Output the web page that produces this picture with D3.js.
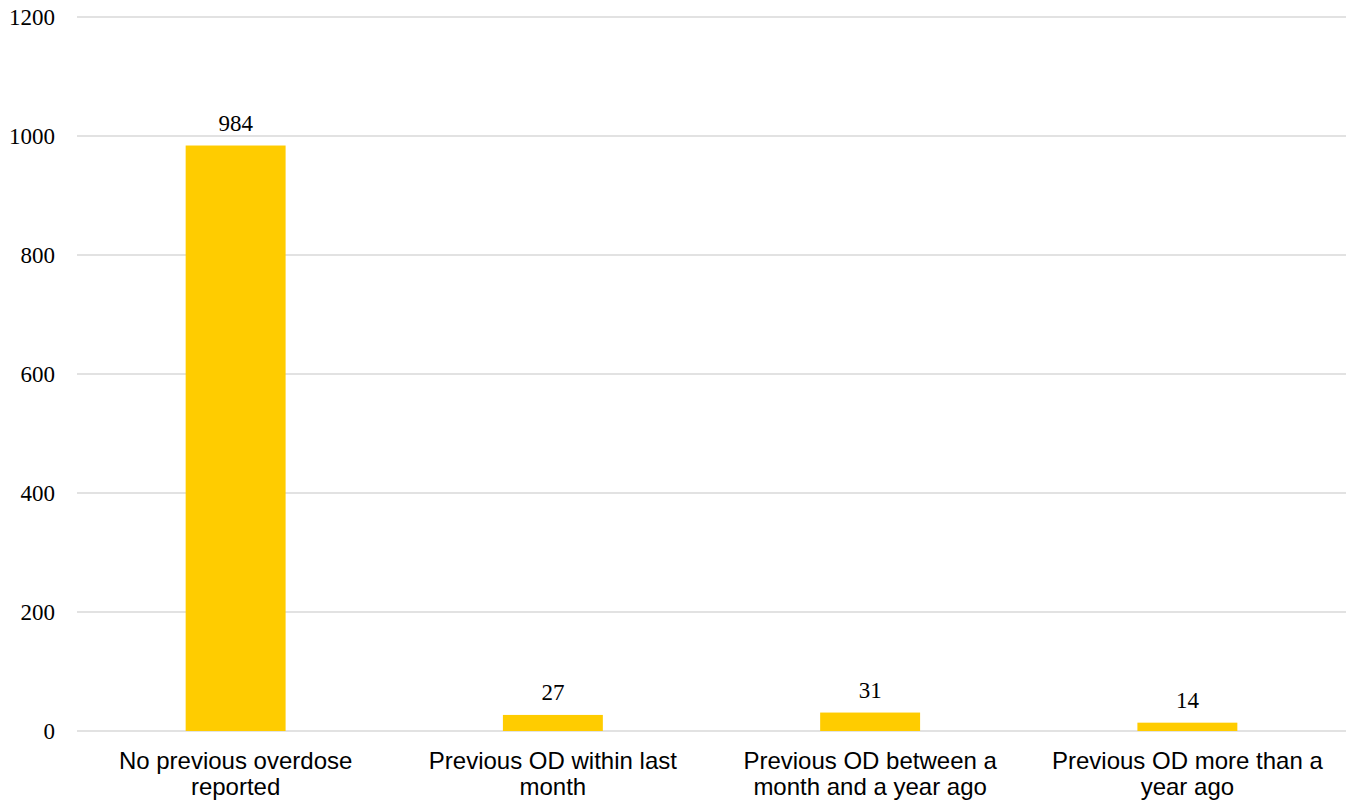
<!DOCTYPE html>
<html><head><meta charset="utf-8">
<script src="https://cdn.jsdelivr.net/npm/d3@7"></script>
<style>body{margin:0;background:#fff}svg{display:block}</style>
</head><body>
<svg id="c" width="1348" height="804"></svg>
<script>
const categories = [
  ["No previous overdose", "reported"],
  ["Previous OD within last", "month"],
  ["Previous OD between a", "month and a year ago"],
  ["Previous OD more than a", "year ago"]
];
const values = [984, 27, 31, 14];
const yTicks = [0, 200, 400, 600, 800, 1000, 1200];

(function () {
const svg = d3.select("#c");
const mLeft = 77, mRight = 1346, mTop = 17, mBottom = 731;
const x = d3.scaleBand().domain(d3.range(categories.length)).range([mLeft, mRight]).paddingInner(0.685).paddingOuter(0.3425);
const y = d3.scaleLinear().domain([0, 1200]).range([mBottom, mTop]);

const g = svg.append("g");
g.selectAll("line.grid").data(yTicks).join("line")
  .attr("x1", mLeft).attr("x2", mRight)
  .attr("y1", d => y(d)).attr("y2", d => y(d))
  .attr("stroke", "#d9d9d9").attr("stroke-width", 1.5);

g.selectAll("text.yt").data(yTicks).join("text")
  .attr("x", 55).attr("y", d => y(d)).attr("dy", "0.35em")
  .attr("text-anchor", "end")
  .style("font-family", "'Liberation Serif', 'Times New Roman', serif")
  .style("font-size", "23px").attr("fill", "#000")
  .text(d => d);

g.selectAll("rect.bar").data(values).join("rect")
  .attr("x", (d, i) => x(i)).attr("width", x.bandwidth())
  .attr("y", d => y(d)).attr("height", d => mBottom - y(d))
  .attr("fill", "#ffcc00");

g.selectAll("text.vl").data(values).join("text")
  .attr("x", (d, i) => x(i) + x.bandwidth() / 2).attr("y", d => y(d) - 15)
  .attr("text-anchor", "middle")
  .style("font-family", "'Liberation Serif', 'Times New Roman', serif")
  .style("font-size", "23px").attr("fill", "#000")
  .text(d => d);

const xl = g.selectAll("text.xl").data(categories).join("text")
  .attr("text-anchor", "middle")
  .style("font-family", "'Liberation Sans', Arial, sans-serif")
  .style("font-size", "24px").attr("fill", "#000");
xl.each(function(d, i) {
  const t = d3.select(this);
  d.forEach((line, j) => {
    t.append("tspan").attr("x", x(i) + x.bandwidth() / 2).attr("y", 769 + j * 25.5).text(line);
  });
});
})();
</script>
</body></html>
